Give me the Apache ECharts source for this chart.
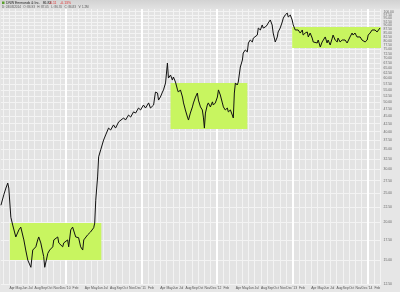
<!DOCTYPE html>
<html>
<head>
<meta charset="utf-8">
<script src="https://cdn.jsdelivr.net/npm/echarts@6/dist/echarts.min.js"></script>
<style>
    html,body{margin:0;padding:0;background:#e6e6e6;}
    #chart{width:400px;height:292px;}
</style>
</head>
<body>
<div id="chart"></div>
<script>
// price path (weekly-ish closes)
const dates = [
    '2009-02-19','2009-03-05','2009-03-15','2009-03-24','2009-03-29','2009-04-08','2009-04-17','2009-05-02','2009-05-17','2009-05-26',
    '2009-06-10','2009-06-19','2009-06-29','2009-07-14','2009-07-23','2009-08-07','2009-08-16','2009-08-21','2009-08-31','2009-09-14',
    '2009-09-19','2009-10-04','2009-10-13','2009-10-28','2009-11-02','2009-11-21','2009-11-26','2009-12-15','2009-12-20','2010-01-08',
    '2010-01-13','2010-01-23','2010-02-01','2010-02-16','2010-03-02','2010-03-12','2010-03-22','2010-03-27','2010-04-15','2010-04-29',
    '2010-05-14','2010-05-19','2010-05-24','2010-06-02','2010-06-07','2010-06-17','2010-07-01','2010-07-11','2010-07-25','2010-08-04',
    '2010-08-18','2010-08-28','2010-09-12','2010-09-21','2010-10-06','2010-10-15','2010-10-30','2010-11-09','2010-11-23','2010-12-03',
    '2010-12-17','2010-12-27','2011-01-10','2011-01-20','2011-02-04','2011-02-13','2011-02-28','2011-03-09','2011-03-19','2011-03-24',
    '2011-04-02','2011-04-12','2011-04-17','2011-04-27','2011-05-06','2011-05-11','2011-05-21','2011-05-30','2011-06-04','2011-06-14',
    '2011-06-24','2011-06-28','2011-07-08','2011-07-18','2011-07-23','2011-08-01','2011-08-11','2011-08-16','2011-08-25','2011-09-04',
    '2011-09-09','2011-09-19','2011-09-28','2011-10-03','2011-10-13','2011-10-22','2011-10-27','2011-11-01','2011-11-06','2011-11-15',
    '2011-11-20','2011-11-30','2011-12-10','2011-12-14','2011-12-24','2012-01-03','2012-01-08','2012-01-17','2012-01-27','2012-02-01',
    '2012-02-10','2012-02-20','2012-02-25','2012-03-06','2012-03-15','2012-03-20','2012-03-25','2012-03-30','2012-04-08','2012-04-13',
    '2012-04-23','2012-05-03','2012-05-07','2012-05-17','2012-05-27','2012-06-01','2012-06-10','2012-06-20','2012-06-25','2012-07-04',
    '2012-07-14','2012-07-19','2012-07-29','2012-08-07','2012-08-12','2012-08-22','2012-08-31','2012-09-05','2012-09-15','2012-09-24',
    '2012-09-29','2012-10-09','2012-10-19','2012-10-23','2012-11-02','2012-11-12','2012-11-17','2012-11-26','2012-12-06','2012-12-11',
    '2012-12-21','2012-12-30','2013-01-04','2013-01-14','2013-01-23','2013-01-28','2013-02-07','2013-02-17','2013-02-21','2013-03-03',
    '2013-03-13','2013-03-18','2013-03-27','2013-04-06','2013-04-11','2013-04-20','2013-04-30','2013-05-05','2013-05-15','2013-05-24',
    '2013-05-29','2013-06-08','2013-06-17','2013-06-22','2013-07-02','2013-07-12','2013-07-16','2013-07-26','2013-08-05','2013-08-09',
    '2013-08-19','2013-08-29','2013-09-03','2013-09-12','2013-09-22','2013-09-27','2013-10-06','2013-10-16','2013-10-21','2013-10-30',
    '2013-11-09','2013-11-14','2013-11-24','2013-12-03','2013-12-08','2013-12-18','2013-12-28','2014-01-02','2014-01-11','2014-01-21',
    '2014-01-26','2014-02-04','2014-02-14','2014-02-19','2014-02-28'
]
const closes = [
    22.8,24.7,26.0,27.0,26.0,20.8,19.6,17.9,18.9,19.3,
    17.5,16.2,15.0,14.2,16.2,16.6,17.5,17.9,17.1,15.4,
    14.2,15.8,16.2,16.6,17.5,17.9,17.1,16.6,17.1,17.5,
    16.6,18.9,19.3,17.9,17.8,16.6,16.2,17.5,18.2,18.6,
    19.2,19.9,23.7,28.3,33.0,34.8,37.5,39.0,41.1,40.5,
    42.1,41.1,43.1,43.7,44.4,43.7,45.4,44.7,46.5,46.1,
    47.9,47.2,49.0,47.9,49.8,47.9,49.0,54.1,53.7,50.9,
    52.1,54.1,55.0,58.0,67.5,60.2,61.6,59.3,60.7,58.4,
    55.0,54.1,55.0,52.1,49.8,47.2,44.7,43.7,46.1,48.3,
    49.8,52.1,53.7,50.9,48.3,47.2,44.7,41.1,46.1,49.0,
    49.8,48.3,50.2,49.0,49.8,52.1,55.0,52.9,49.8,48.3,
    47.2,47.9,46.5,47.2,45.4,44.4,53.7,58.0,57.1,58.4,
    65.5,69.1,72.9,74.6,73.5,78.7,80.5,79.3,81.7,80.5,
    83.6,88.2,86.9,90.3,88.2,88.9,90.3,91.7,93.8,90.3,
    84.9,79.3,82.4,85.6,88.2,92.4,95.2,97.4,98.9,96.0,
    97.4,93.8,90.3,86.9,85.6,86.9,84.9,86.9,83.6,84.9,
    85.6,82.4,84.9,81.7,79.3,80.5,78.7,80.5,76.3,79.3,
    78.7,82.4,78.7,80.5,77.5,81.7,83.6,80.5,79.3,81.7,
    79.3,80.5,81.7,80.5,78.7,79.3,82.4,84.9,83.6,84.9,
    82.4,81.7,82.4,80.5,81.7,79.3,80.5,83.6,84.9,86.9,
    88.2,86.9,85.6,86.9,88.2
]

// green consolidation boxes
const boxStart = ['2009-04-03','2011-05-21','2012-12-30']
const boxEnd   = ['2010-06-20','2012-05-27','2014-03-05']
const boxLow   = [15.0, 40.8, 75.7]
const boxHigh  = [19.9, 58.0, 88.9]

// right axis price labels
const priceTicks = [12.5,15,17.5,20,22.5,25,27.5,30,32.5,35,37.5,40,42.5,45,47.5,50,52.5,55,57.5,60,
    62.5,65,67.5,70,72.5,75,77.5,80,82.5,85,87.5,90,92.5,95,97.5,100]

const monthNames = ['Jan','Feb','Mar','Apr','May','Jun','Jul','Aug','Sep','Oct','Nov','Dec']

function toTime(s){
    const p = s.split('-')
    return new Date(+p[0], +p[1] - 1, +p[2]).getTime()
}

const xMin = toTime('2009-02-19')
const xMax = toTime('2014-03-05')

let monthTicks = []
let yearTicks = []
for(let y = 2009; y <= 2014; y++){
    for(let m = 0; m < 12; m++){
        const t = new Date(y,m,1).getTime()
        if(t < xMin || t > xMax) continue
        monthTicks.push(t)
        if(m === 0) yearTicks.push(t)
    }
}

const chartInstance = echarts.init(document.getElementById('chart'))

const option = {
    backgroundColor:'#e6e6e6',
    animation:false,
    textStyle:{
        fontFamily:'Liberation Sans'
    },
    graphic:[
        {
            type:'rect',
            left:0,
            top:0,
            shape:{width:400,height:9},
            style:{
                fill:new echarts.graphic.LinearGradient(0,0,0,1,[
                    {offset:0,color:'#d2d2d2'},
                    {offset:1,color:'#e2e2e2'}
                ])
            },
            z:0
        },
        {
            type:'rect',
            left:2,
            top:1.5,
            shape:{width:2.5,height:2.5},
            style:{fill:'#5aa02c'},
            z:10
        },
        {
            type:'text',
            left:6,
            top:1.3,
            style:{text:'DNW Emmonds & Inc.   86.83',fontSize:3.4,fill:'#222',fontFamily:'Liberation Sans'},
            z:10
        },
        {
            type:'text',
            left:49,
            top:1.3,
            style:{text:'-0.11    -0.13%',fontSize:3.4,fill:'#e23030',fontFamily:'Liberation Sans'},
            z:10
        },
        {
            type:'text',
            left:2,
            top:5.6,
            style:{text:'D: 03/03/2014   O: 86.93   H: 87.05   L: 86.70   C: 86.83   V: 1.2M',fontSize:3,fill:'#555',fontFamily:'Liberation Sans'},
            z:10
        }
    ],
    grid:{
        left:0,
        right:19,
        top:9,
        bottom:8,
        show:true,
        backgroundColor:'#e3e3e3',
        borderWidth:0
    },
    xAxis:[
        {
            type:'value',
            min:xMin,
            max:xMax,
            axisLine:{show:false},
            axisTick:{show:false,customValues:monthTicks},
            axisLabel:{
                customValues:monthTicks,
                fontSize:3.4,
                color:'#555',
                margin:2.5,
                align:'left',
                formatter:(value) => {
                    const d = new Date(value)
                    const m = d.getMonth()
                    if(m === 0) return "'" + String(d.getFullYear()).slice(2)
                    if(m === 2) return ''
                    return monthNames[m]
                }
            },
            splitLine:{show:true,lineStyle:{color:'#f3f3f3',width:1}}
        },
        {
            type:'value',
            min:xMin,
            max:xMax,
            position:'bottom',
            axisLine:{show:false},
            axisTick:{show:false,customValues:yearTicks},
            axisLabel:{show:false,customValues:yearTicks},
            splitLine:{show:true,lineStyle:{color:'#ffffff',width:2}}
        }
    ],
    yAxis:{
        type:'log',
        position:'right',
        min:12.5,
        max:102,
        axisLine:{show:false},
        axisTick:{show:false,customValues:priceTicks},
        axisLabel:{
            customValues:priceTicks,
            fontSize:3.4,
            color:'#666',
            margin:2.5,
            formatter:(v) => v.toFixed(2)
        },
        splitLine:{show:true,lineStyle:{color:'#f3f3f3',width:1}}
    },
    series:[
        {
            type:'line',
            xAxisIndex:0,
            data:dates.map((d,i) => [toTime(d),closes[i]]),
            symbol:'none',
            lineStyle:{color:'#111',width:1},
            markArea:{
                silent:true,
                itemStyle:{color:'#c8f560',opacity:1},
                data:boxStart.map((s,i) => [
                    {xAxis:toTime(s),yAxis:boxLow[i]},
                    {xAxis:toTime(boxEnd[i]),yAxis:boxHigh[i]}
                ])
            }
        }
    ]
}

chartInstance.setOption(option)
</script>
</body>
</html>
